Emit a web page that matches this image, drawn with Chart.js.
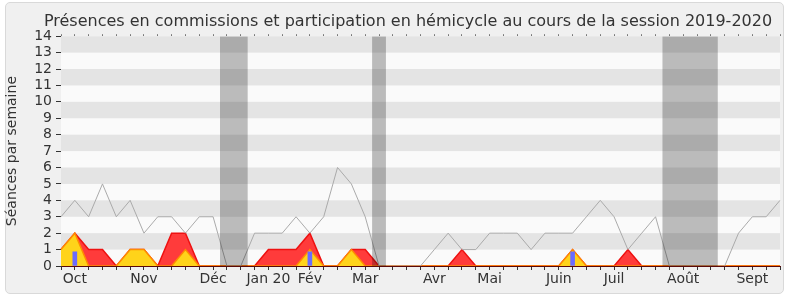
<!DOCTYPE html>
<html>
<head>
<meta charset="utf-8">
<script src="https://cdn.jsdelivr.net/npm/chart.js@4/dist/chart.umd.min.js"></script>
<style>
  body { margin: 0; background: #fff; }
  #frame { position: absolute; left: 5px; top: 2px; width: 777px; height: 290px;
           border: 1px solid #d9d9d9; border-radius: 5px; background: #f0f0f0; }
  #c { position: absolute; left: 0; top: 0; }
</style>
</head>
<body>
<div id="frame"></div>
<canvas id="c" width="790" height="300"></canvas>
<script>
// one value per week, sept 2019 -> sept 2020
var hemicycle = [3,4,3,5,3,4,2,3,3,2,3,3,0,0,2,2,2,3,2,3,6,5,3,0,0,0,0,1,2,1,1,2,2,2,1,2,2,2,3,4,3,1,2,3,0,0,0,0,0,2,3,3,4];
var commission = [1,2,1,1,0,1,1,0,2,2,0,0,0,0,0,1,1,1,2,0,0,1,1,0,0,0,0,0,0,1,0,0,0,0,0,0,0,1,0,0,0,1,0,0,0,0,0,0,0,0,0,0,0];
var presences = [1,2,0,0,0,1,1,0,0,1,0,0,0,0,0,0,0,0,1,0,0,1,0,0,0,0,0,0,0,0,0,0,0,0,0,0,0,1,0,0,0,0,0,0,0,0,0,0,0,0,0,0,0];
var questionWeeks = [1, 18, 37];
var questionValues = [0.87, 0.87, 0.87];
var vacationWeeks = [12, 13, 23, 44, 45, 46, 47];
var monthNames = ['Oct', 'Nov', 'Déc', 'Jan 20', 'Fév', 'Mar', 'Avr', 'Mai', 'Juin', 'Juil', 'Août', 'Sept'];
var monthWeeks = [1, 6, 11, 15, 18, 22, 27, 31, 36, 40, 45, 50];

var labels = hemicycle.map(function () { return ''; });
monthWeeks.forEach(function (w, i) { labels[w] = monthNames[i]; });

var questions = labels.map(function () { return null; });
questionWeeks.forEach(function (w, i) { questions[w] = questionValues[i]; });

var vacances = labels.map(function () { return 0; });
vacationWeeks.forEach(function (w) { vacances[w] = 14; });

Chart.defaults.font.family = 'DejaVu Sans';
Chart.defaults.color = '#333';

// alternating horizontal stripes behind the data
var stripes = {
    id: 'stripes',
    afterLayout: function (chart) {
        // title is centred a bit right of the canvas centre
        chart.titleBlock.left = 36;
    },
    beforeDatasetsDraw: function (chart) {
        var ctx = chart.ctx, a = chart.chartArea, y = chart.scales.y;
        ctx.save();
        ctx.fillStyle = '#fafafa';
        ctx.fillRect(a.left, a.top, a.right - a.left, a.bottom - a.top);
        ctx.fillStyle = '#e4e4e4';
        for (var v = 1; v < 14; v += 2) {
            var y1 = y.getPixelForValue(v + 1), y0 = y.getPixelForValue(v);
            ctx.fillRect(a.left, y1, a.right - a.left, y0 - y1);
        }
        ctx.restore();
    }
};

new Chart(document.getElementById('c'), {
    type: 'line',
    data: {
        labels: labels,
        datasets: [
            { data: vacances, stepped: 'middle', borderWidth: 0, borderColor: 'rgba(0,0,0,0)',
              backgroundColor: 'rgba(0,0,0,0.25)', pointRadius: 0, fill: 'origin', order: 0 },
            { data: hemicycle, borderColor: '#aaaaaa', borderWidth: 1, pointRadius: 0,
              fill: false, tension: 0, order: 1 },
            { type: 'bar', data: questions, backgroundColor: '#6b6bff', borderWidth: 0,
              barThickness: 4, grouped: false, order: 2 },
            { data: presences, borderColor: '#ff8c00', backgroundColor: '#ffd31a', borderWidth: 1.5,
              pointRadius: 0, fill: 'origin', tension: 0, order: 3 },
            { data: commission, borderColor: '#ee1111', backgroundColor: '#ff3b3b', borderWidth: 1.5,
              pointRadius: 0, fill: 'origin', tension: 0, order: 4 }
        ]
    },
    options: {
        responsive: false,
        animation: false,
        layout: { padding: { left: 0, right: 10, top: 0, bottom: 0 } },
        plugins: {
            legend: { display: false },
            tooltip: { enabled: false },
            title: {
                display: true,
                text: 'Présences en commissions et participation en hémicycle au cours de la session 2019-2020',
                color: '#333',
                font: { size: 16, weight: 'normal' },
                padding: { top: 12, bottom: 2 }
            }
        },
        scales: {
            x: {
                type: 'category', position: 'bottom', offset: false, z: 1,
                grid: { offset: false, drawOnChartArea: false, tickLength: 4, color: '#333' },
                border: { color: '#5a0808', width: 1 },
                ticks: { autoSkip: false, maxRotation: 0, padding: 1, font: { size: 14 }, color: '#333' },
                afterFit: function (s) { s.height = 34; }
            },
            x2: {
                type: 'category', position: 'top', offset: false, labels: labels,
                grid: { offset: false, drawOnChartArea: false, tickLength: 2, color: '#777' },
                border: { display: false },
                ticks: { display: false },
                afterFit: function (s) { s.height = 3; }
            },
            y: {
                min: 0, max: 14,
                grid: { drawOnChartArea: false, tickLength: 5, color: '#333' },
                border: { color: '#333' },
                ticks: { stepSize: 1, autoSkip: false, padding: 4, font: { size: 14 }, color: '#333' },
                title: { display: true, text: 'Séances par semaine', font: { size: 14 }, color: '#333' },
                afterFit: function (s) { s.width = 61; }
            }
        }
    },
    plugins: [stripes]
});
</script>
</body>
</html>
